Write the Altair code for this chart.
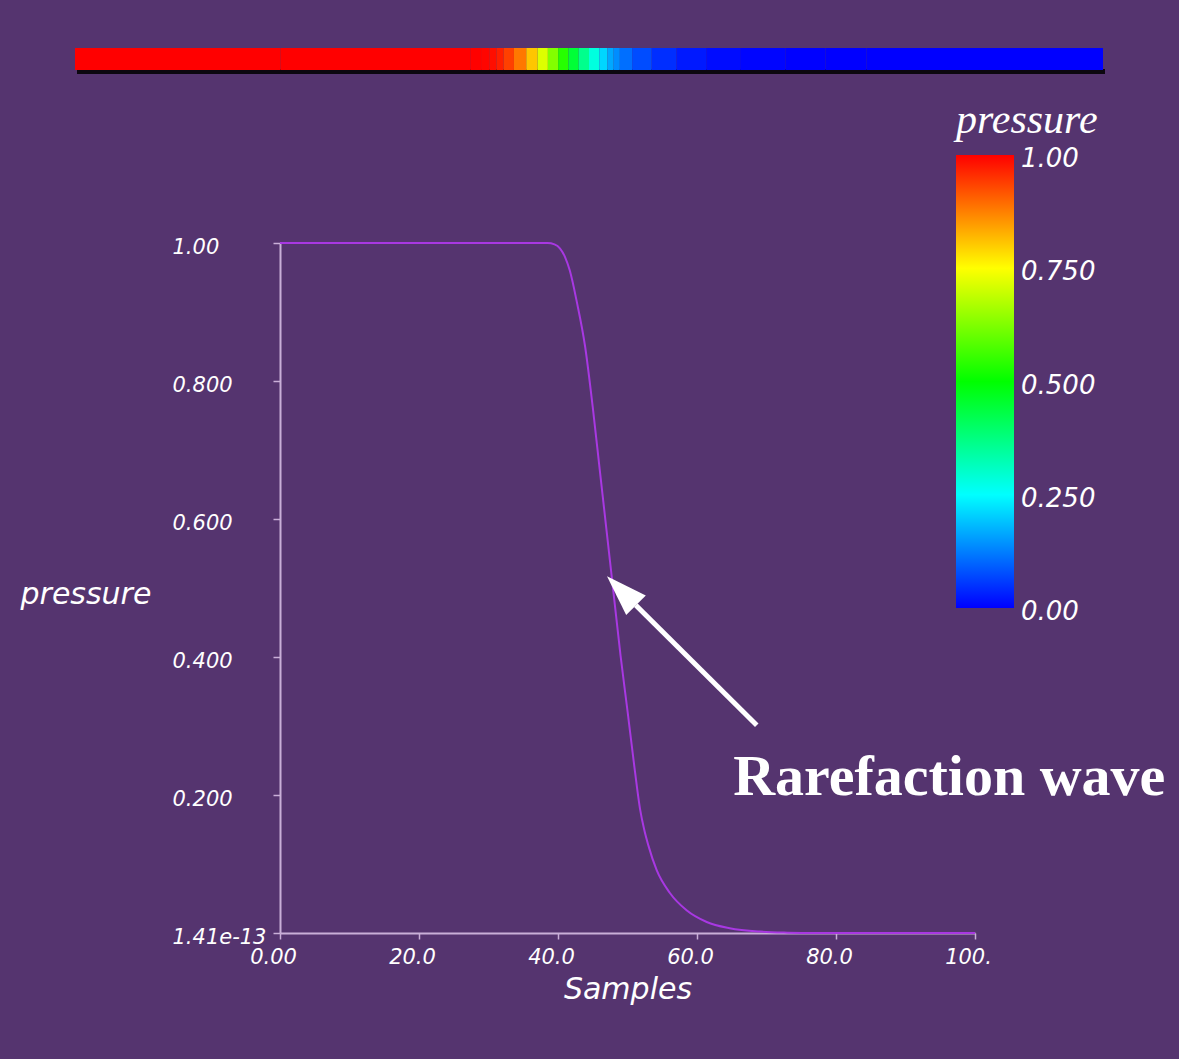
import altair as alt
import pandas as pd

# ---- data ----
samples = [0, 20, 38.5, 39.5, 40.3, 41.0, 41.7, 42.7, 43.9, 45.0, 46.0, 47.0, 48.0, 49.0,
           50.0, 51.0, 51.8, 52.4, 53.0, 54.2, 56.1, 58.5, 61.4, 64.7, 69.1, 73.0, 77.0, 100]
pressure = [1.0, 1.0, 1.0, 0.998, 0.992, 0.980, 0.960, 0.915, 0.850, 0.762, 0.672, 0.582, 0.492,
            0.402, 0.322, 0.240, 0.180, 0.150, 0.127, 0.091, 0.058, 0.033, 0.016, 0.007,
            0.002, 0.0005, 0.0, 0.0]

x_ticks = [0, 20, 40, 60, 80, 100]
x_tick_labels = ["0.00", "20.0", "40.0", "60.0", "80.0", "100."]
y_ticks = [0, 0.2, 0.4, 0.6, 0.8, 1.0]
y_tick_labels = ["1.41e-13", "0.200", "0.400", "0.600", "0.800", "1.00"]
legend_values = [0, 0.25, 0.5, 0.75, 1.0]
legend_labels = ["0.00", "0.250", "0.500", "0.750", "1.00"]
color_domain = [0, 0.25, 0.5, 0.75, 1.0]
color_range = ["#0000ff", "#00ffff", "#00ff00", "#ffff00", "#ff0000"]

annotation_text = ["Rarefaction wave"]
arrow_tail = [68.6, 0.301]
arrow_base = [51.2, 0.475]
arrow_tip = [47.05, 0.517]
text_anchor = [65.2, 0.2]

BG = "#55346F"
AXIS_COLOR = "#C9AFD8"
LINE_COLOR = "#A838E2"


def label_expr(values, labels):
    expr = "''"
    for v, l in reversed(list(zip(values, labels))):
        expr = f"abs(datum.value - {v}) < 1e-9 ? '{l}' : ({expr})"
    return expr


df = pd.DataFrame({"sample": samples, "pressure": pressure})
seg = pd.DataFrame({
    "x0": samples[:-1],
    "x1": samples[1:],
    "p": [(a + b) / 2 for a, b in zip(pressure[:-1], pressure[1:])],
})
arrow_df = pd.DataFrame({"x": [arrow_tail[0]], "y": [arrow_tail[1]],
                         "x2": [arrow_base[0]], "y2": [arrow_base[1]]})
tip_df = pd.DataFrame({"x": [arrow_tip[0]], "y": [arrow_tip[1]]})
text_df = pd.DataFrame({"x": [text_anchor[0]], "y": [text_anchor[1]], "t": annotation_text})
leg_df = pd.DataFrame({"v": legend_values, "t": legend_labels})
one = pd.DataFrame({"a": [0]})

xs = alt.Scale(domain=[0, 100], nice=False)
ys = alt.Scale(domain=[0, 1], nice=False)
cscale = alt.Scale(domain=color_domain, range=color_range, interpolate="rgb")

shadow = alt.Chart(one).mark_rect(color="#000000", opacity=0.85).encode(
    x=alt.value(-203), x2=alt.value(825), y=alt.value(-174), y2=alt.value(-169)
)

strip = alt.Chart(seg).mark_rect().encode(
    x=alt.X("x0:Q", scale=alt.Scale(domain=[0, 100], nice=False, range=[-205, 823]), axis=None),
    x2="x1:Q",
    y=alt.value(-195),
    y2=alt.value(-173),
    color=alt.Color(
        "p:Q",
        scale=cscale,
        legend=alt.Legend(
            type="gradient",
            orient="none", legendX=676, legendY=-143, direction="vertical",
            gradientLength=453, gradientThickness=58, gradientStrokeWidth=0,
            values=legend_values, labelOpacity=0, labelExpr="''",
            title="pressure", titleFont="Liberation Serif", titleFontStyle="italic",
            titleFontSize=42, titleFontWeight="normal", titleColor="white", titlePadding=13,
            labelFontSize=26, labelOverlap=False,
            padding=0,
        ),
    ),
)

legend_text = alt.Chart(leg_df).mark_text(
    font="DejaVu Sans", fontStyle="italic", fontSize=26, color="white",
    align="left", baseline="middle",
).encode(
    x=alt.value(741),
    y=alt.Y("v:Q", scale=alt.Scale(domain=[0, 1], range=[369, -84]), axis=None),
    text="t:N",
)

line = alt.Chart(df).mark_line(color=LINE_COLOR, strokeWidth=2, interpolate="monotone").encode(
    x=alt.X("sample:Q", scale=xs, axis=alt.Axis(
        values=x_ticks, labelExpr=label_expr(x_ticks, x_tick_labels), grid=False,
        title="Samples", titleFont="DejaVu Sans", titleFontStyle="italic", titleFontSize=30,
        titleFontWeight="normal", titleColor="white", titleY=65, titleBaseline="alphabetic",
        labelFont="DejaVu Sans", labelFontStyle="italic", labelFontSize=21, labelColor="white",
        labelBaseline="alphabetic", labelPadding=24, labelOffset=-7, labelFlush=False,
        labelOverlap=False, tickSize=6, tickColor=AXIS_COLOR, tickWidth=1.5,
        domainColor=AXIS_COLOR, domainWidth=2,
    )),
    y=alt.Y("pressure:Q", scale=ys, axis=alt.Axis(
        values=y_ticks, labelExpr=label_expr(y_ticks, y_tick_labels), grid=False,
        title="pressure", titleAngle=0, titleX=-260, titleY=360, titleAlign="left",
        titleBaseline="alphabetic", titleFont="DejaVu Sans", titleFontStyle="italic",
        titleFontSize=30, titleFontWeight="normal", titleColor="white",
        labelFont="DejaVu Sans", labelFontStyle="italic", labelFontSize=21, labelColor="white",
        labelAlign="left", labelBaseline="middle", labelPadding=101, labelOffset=4,
        labelFlush=False, labelOverlap=False, tickSize=7, tickColor=AXIS_COLOR, tickWidth=1.5,
        domainColor=AXIS_COLOR, domainWidth=2,
    )),
)

arrow = alt.Chart(arrow_df).mark_rule(color="white", strokeWidth=5).encode(
    x=alt.X("x:Q", scale=xs, axis=None), y=alt.Y("y:Q", scale=ys, axis=None),
    x2="x2:Q", y2="y2:Q",
)

head = alt.Chart(tip_df).mark_point(
    shape="M0,0L0.97,0.48L0.48,0.97Z", filled=True, color="white", opacity=1,
    size=6400, strokeWidth=0,
).encode(
    x=alt.X("x:Q", scale=xs, axis=None), y=alt.Y("y:Q", scale=ys, axis=None),
)

label = alt.Chart(text_df).mark_text(
    font="Liberation Serif", fontWeight="bold", fontSize=58, color="white",
    align="left", baseline="alphabetic",
).encode(
    x=alt.X("x:Q", scale=xs, axis=None), y=alt.Y("y:Q", scale=ys, axis=None),
    text="t:N",
)

chart = alt.layer(shadow, strip, legend_text, line, arrow, head, label).resolve_scale(
    x="independent", y="independent"
).resolve_axis(
    x="independent", y="independent"
).properties(
    width=695, height=690,
    padding={"left": 280, "top": 243, "right": 204, "bottom": 126},
    autosize=alt.AutoSizeParams(type="none"),
    background=BG,
).configure_view(stroke=None)

chart.save("out.html", embed_options={"renderer": "svg", "actions": False})
